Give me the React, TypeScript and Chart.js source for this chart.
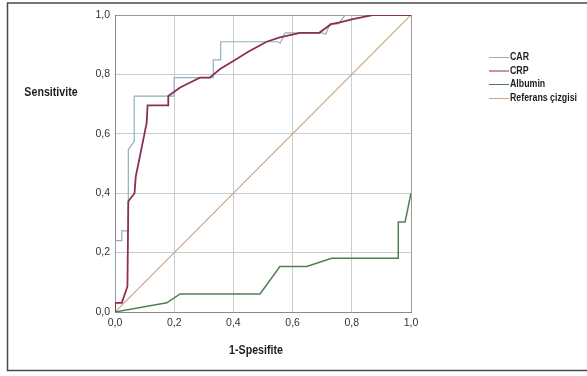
import React, { useEffect, useRef } from "react";
import { Chart, registerables } from "chart.js";

Chart.register(...registerables);

// ---- Data ----
const seriesLabels = ["CAR", "CRP", "Albumin", "Referans çizgisi"];
const seriesColors = ["#8fb0c0", "#8c2f52", "#4f7f52", "#cfa47e"];

const carX = [0, 0, 0.023, 0.023, 0.045, 0.045, 0.065, 0.065, 0.2, 0.2, 0.332, 0.332, 0.357, 0.357, 0.55, 0.558, 0.575, 0.70, 0.712, 0.726, 0.755, 0.778, 1.0];
const carY = [0, 0.24, 0.24, 0.273, 0.273, 0.547, 0.575, 0.727, 0.727, 0.789, 0.789, 0.849, 0.849, 0.91, 0.91, 0.905, 0.94, 0.94, 0.935, 0.97, 0.97, 1.0, 1.0];

const crpX = [0, 0, 0.023, 0.042, 0.045, 0.066, 0.07, 0.107, 0.11, 0.18, 0.18, 0.22, 0.287, 0.32, 0.355, 0.40, 0.45, 0.512, 0.557, 0.625, 0.69, 0.73, 0.76, 0.80, 0.87, 1.0];
const crpY = [0, 0.031, 0.031, 0.086, 0.373, 0.40, 0.455, 0.637, 0.696, 0.696, 0.727, 0.756, 0.789, 0.789, 0.818, 0.845, 0.876, 0.91, 0.925, 0.94, 0.94, 0.969, 0.975, 0.985, 1.0, 1.0];

const albX = [0, 0.175, 0.22, 0.49, 0.557, 0.648, 0.732, 0.957, 0.957, 0.98, 1.0];
const albY = [0, 0.031, 0.061, 0.061, 0.153, 0.153, 0.181, 0.181, 0.303, 0.303, 0.40];

const refX = [0, 1];
const refY = [0, 1];

const tickValues = [0, 0.2, 0.4, 0.6, 0.8, 1.0];
const xTitle = "1-Spesifite";
const yTitle = "Sensitivite";

const FONT = "'Liberation Sans', Arial, sans-serif";

const toPoints = (xs: number[], ys: number[]) => xs.map((x, i) => ({ x, y: ys[i] }));
const fmt = (v: number) => v.toFixed(1).replace(".", ",");

function narrowText(ctx: CanvasRenderingContext2D, text: string, x: number, y: number, sx: number) {
  ctx.save();
  ctx.translate(x, y);
  ctx.scale(sx, 1);
  ctx.fillText(text, 0, 0);
  ctx.restore();
}

const decorPlugin = {
  id: "decor",
  afterDraw(chart: any) {
    const ctx = chart.ctx as CanvasRenderingContext2D;
    const area = chart.chartArea;
    ctx.save();
    // outer frame
    ctx.strokeStyle = "#4a4a4a";
    ctx.lineWidth = 1.5;
    ctx.beginPath();
    ctx.moveTo(600, 3);
    ctx.lineTo(7.5, 3);
    ctx.lineTo(7.5, 370.5);
    ctx.lineTo(600, 370.5);
    ctx.stroke();

    // axis titles
    ctx.fillStyle = "#1e1e1e";
    ctx.font = `bold 13px ${FONT}`;
    ctx.textAlign = "center";
    ctx.textBaseline = "middle";
    narrowText(ctx, yTitle, 51, 92, 0.82);
    narrowText(ctx, xTitle, (area.left + area.right) / 2 - 7, 350, 0.82);

    // legend
    ctx.font = `bold 11px ${FONT}`;
    ctx.textAlign = "left";
    const ys = [57, 70.5, 84, 98];
    seriesLabels.forEach((lab, i) => {
      const y = ys[i];
      ctx.strokeStyle = seriesColors[i];
      ctx.lineWidth = 1;
      ctx.beginPath();
      ctx.moveTo(489, y + 0.5);
      ctx.lineTo(509, y + 0.5);
      ctx.stroke();
      ctx.fillStyle = "#1e1e1e";
      narrowText(ctx, lab, 510, y, 0.8);
    });
    ctx.restore();
  },
};

export default function App() {
  const ref = useRef<HTMLCanvasElement | null>(null);
  useEffect(() => {
    if (!ref.current) return;
    const gridColor = (c: any) => (c.tick && c.tick.value === 1 ? "#9a9a9a" : "#c8cdcd");
    const tickFont = { family: FONT, size: 10.5 };
    const chart = new Chart(ref.current, {
      type: "line",
      data: {
        datasets: [
          { label: seriesLabels[0], data: toPoints(carX, carY), borderColor: seriesColors[0], borderWidth: 1.2, order: 1 },
          { label: seriesLabels[1], data: toPoints(crpX, crpY), borderColor: seriesColors[1], borderWidth: 1.8, order: 0 },
          { label: seriesLabels[2], data: toPoints(albX, albY), borderColor: seriesColors[2], borderWidth: 1.5, order: 2 },
          { label: seriesLabels[3], data: toPoints(refX, refY), borderColor: seriesColors[3], borderWidth: 1.2, order: 3 },
        ],
      },
      options: {
        responsive: false,
        animation: false,
        layout: { padding: { left: 0, top: 15, right: 176, bottom: 34 } },
        plugins: { legend: { display: false }, tooltip: { enabled: false } },
        elements: { point: { radius: 0 }, line: { tension: 0, fill: false } },
        scales: {
          x: {
            type: "linear",
            min: 0,
            max: 1,
            afterFit: (s: any) => { s.height = 30; },
            afterBuildTicks: (s: any) => { s.ticks = tickValues.map((v) => ({ value: v })); },
            ticks: { callback: (v: any) => fmt(Number(v)), padding: 5, font: tickFont, color: "#333", maxRotation: 0 },
            grid: { color: gridColor, drawTicks: false, lineWidth: 1 },
            border: { color: "#8a8a8a", width: 1 },
          },
          y: {
            type: "linear",
            min: 0,
            max: 1,
            afterFit: (s: any) => { s.width = 115; },
            afterBuildTicks: (s: any) => { s.ticks = tickValues.map((v) => ({ value: v })); },
            ticks: { callback: (v: any) => fmt(Number(v)), padding: 5, font: tickFont, color: "#333" },
            grid: { color: gridColor, drawTicks: false, lineWidth: 1 },
            border: { color: "#8a8a8a", width: 1 },
          },
        },
      },
      plugins: [decorPlugin],
    });
    return () => chart.destroy();
  }, []);
  return (
    <div style={{ position: "absolute", left: 0, top: 0, width: 587, height: 376, background: "#fff", overflow: "hidden" }}>
      <canvas ref={ref} width={587} height={376} style={{ display: "block" }} />
    </div>
  );
}
